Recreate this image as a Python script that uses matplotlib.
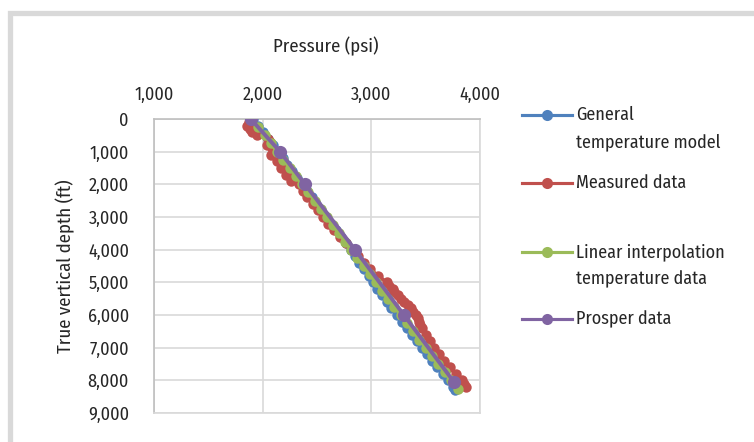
import matplotlib
matplotlib.use("Agg")
import matplotlib.pyplot as plt
from matplotlib.lines import Line2D
from matplotlib.patches import Rectangle

plt.rcParams['font.family'] = ['Fira Sans Condensed', 'DejaVu Sans']

# ---------------- data ----------------
series_names = ["General\ntemperature model", "Measured data",
                "Linear interpolation\ntemperature data", "Prosper data"]
series_colors = ["#4F81BD", "#C0504D", "#9BBB59", "#8064A2"]

general_depth = [0, 200, 400, 600, 800, 1000, 1200, 1400, 1600, 1800, 2000, 2200, 2400,
                 2600, 2800, 3000, 3200, 3400, 3600, 3800, 4000, 4200, 4400, 4600, 4800,
                 5000, 5200, 5400, 5600, 5800, 6000, 6200, 6400, 6600, 6800, 7000, 7200,
                 7400, 7600, 7800, 8000, 8200, 8300]
general_pressure = [1915, 1960, 2005, 2050, 2095, 2140, 2185, 2228, 2272, 2316, 2360, 2405,
                    2450, 2495, 2540, 2585, 2630, 2675, 2720, 2765, 2810, 2850, 2890, 2932,
                    2975, 3015, 3055, 3095, 3140, 3185, 3232, 3280, 3325, 3372, 3418, 3462,
                    3508, 3555, 3605, 3655, 3705, 3750, 3772]

measured_depth = [0, 100, 200, 300, 400, 500, 600, 700, 800, 900, 1000, 1100, 1200, 1300,
                  1400, 1500, 1600, 1700, 1800, 1900, 2000, 2200, 2400, 2600, 2800, 3000,
                  3200, 3400, 3600, 3800, 4000, 4200, 4400, 4600, 4800, 5000, 5100, 5200,
                  5300, 5400, 5500, 5600, 5700, 5800, 5900, 6000, 6100, 6200, 6300, 6400,
                  6600, 6800, 7000, 7200, 7400, 7600, 7800, 8000, 8100, 8200]
measured_pressure = [1895, 1870, 1860, 1880, 1900, 1945, 2050, 2065, 2040, 2090, 2110, 2075,
                     2150, 2130, 2190, 2165, 2230, 2215, 2280, 2265, 2330, 2370, 2410, 2465,
                     2510, 2555, 2605, 2655, 2712, 2765, 2822, 2878, 2930, 2990, 3065, 3140,
                     3165, 3195, 3210, 3245, 3275, 3300, 3335, 3365, 3385, 3410, 3425, 3440,
                     3450, 3470, 3505, 3540, 3580, 3622, 3670, 3722, 3778, 3830, 3852, 3870]

linear_depth = [0, 250, 500, 750, 1000, 1250, 1500, 1750, 2000, 2250, 2500, 2750, 3000,
                3250, 3500, 3750, 4000, 4250, 4500, 4750, 5000, 5250, 5500, 5750, 6000,
                6250, 6500, 6750, 7000, 7250, 7500, 7750, 8000, 8250]
linear_pressure = [1905, 1960, 2020, 2075, 2135, 2190, 2250, 2305, 2365, 2420, 2478, 2533,
                   2590, 2645, 2702, 2758, 2815, 2870, 2928, 2985, 3042, 3098, 3155, 3212,
                   3270, 3328, 3385, 3442, 3500, 3558, 3615, 3675, 3735, 3800]

prosper_depth = [0, 1000, 2000, 4000, 6000, 8050]
prosper_pressure = [1890, 2160, 2390, 2850, 3300, 3760]

x_ticks = [1000, 2000, 3000, 4000]
y_ticks = [0, 1000, 2000, 3000, 4000, 5000, 6000, 7000, 8000, 9000]

# ---------------- figure ----------------
W, H = 754, 442
fig = plt.figure(figsize=(W / 100, H / 100), dpi=100)
fig.patch.set_facecolor("white")

def fx(px):
    return px / W

def fy(py):
    return 1 - py / H

# outer chart frame (only top and left edges visible in the crop)
fig.add_artist(Rectangle((fx(9.5), fy(470)), fx(800), fy(12.5) - fy(470),
                         transform=fig.transFigure, fill=False,
                         edgecolor="#D9D9D9", linewidth=3.8))

ax = fig.add_axes([fx(154), fy(413), fx(480) - fx(154), fy(119) - fy(413)])

series = [(general_pressure, general_depth), (measured_pressure, measured_depth),
          (linear_pressure, linear_depth), (prosper_pressure, prosper_depth)]
for i, ((p, d), c) in enumerate(zip(series, series_colors)):
    if i == 3:
        ax.plot(p, d, color=c, linewidth=2.8, marker="o", markersize=9.5,
                markeredgewidth=0, zorder=5 + i)
    else:
        ax.plot(p, d, color=c, linewidth=2.5, marker="o", markersize=7.5,
                markeredgewidth=0, zorder=5 + i)

ax.set_xlim(1000, 4000)
ax.set_ylim(9000, 0)
ax.set_xticks(x_ticks)
ax.set_yticks(y_ticks)
ax.set_xticklabels([f"{v:,}" for v in x_ticks])
ax.set_yticklabels([f"{v:,}" for v in y_ticks])
ax.xaxis.tick_top()
ax.tick_params(axis="x", length=0, pad=11, labelsize=13, labelcolor="#262626")
ax.tick_params(axis="y", length=0, pad=18, labelsize=13, labelcolor="#262626")
ax.grid(True, color="#D9D9D9", linewidth=1.2)
ax.set_axisbelow(True)
for s in ["top", "left"]:
    ax.spines[s].set_color("#BFBFBF")
    ax.spines[s].set_linewidth(1.2)
for s in ["bottom", "right"]:
    ax.spines[s].set_color("#D9D9D9")
    ax.spines[s].set_linewidth(1.2)

ax.xaxis.set_label_position("top")
ax.set_xlabel("Pressure (psi)", fontsize=13.5, color="#262626", va="center")
ax.xaxis.set_label_coords(0.528, 1 + (119 - 46) / 294)
ax.set_ylabel("True vertical depth (ft)", fontsize=13.5, color="#262626",
              va="center", ha="center")
ax.yaxis.set_label_coords((65 - 154) / 326, 0.5)

# ---------------- legend (manual, Excel layout) ----------------
legend_rows = [115, 183, 252, 319]
for name, c, ry in zip(series_names, series_colors, legend_rows):
    fig.add_artist(Line2D([fx(522), fx(572)], [fy(ry), fy(ry)], transform=fig.transFigure,
                          color=c, linewidth=2.25))
    fig.add_artist(Line2D([fx(547)], [fy(ry)], transform=fig.transFigure, color=c,
                          marker="o", markersize=8, markeredgewidth=0, linestyle="none"))
    for k, line in enumerate(name.split("\n")):
        fig.text(fx(576), fy(ry + 27 * k), line, fontsize=13, color="#262626",
                 ha="left", va="center")

fig.savefig("out.png", dpi=100, facecolor="white")
